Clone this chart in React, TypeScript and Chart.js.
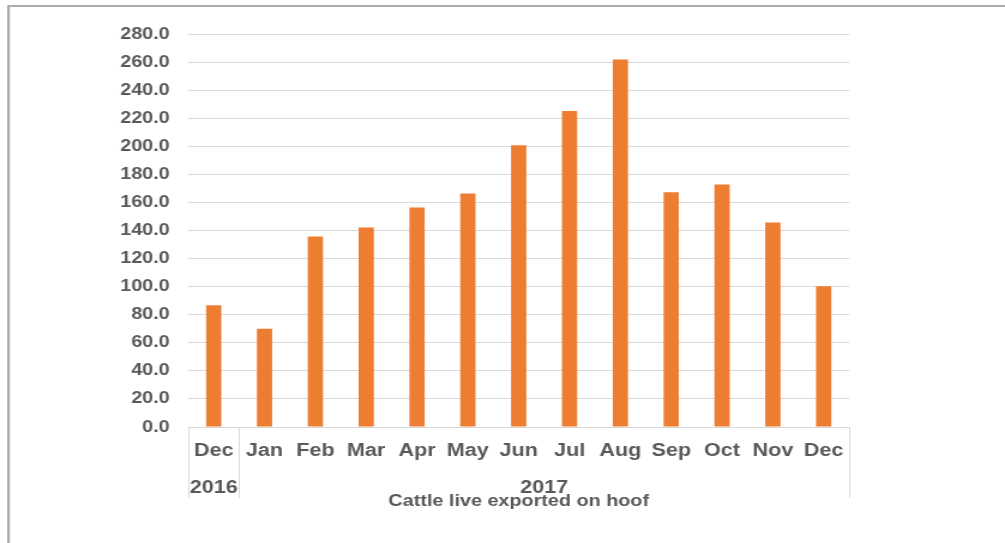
import React, { useEffect, useRef } from "react";
import { Chart, registerables } from "chart.js";

Chart.register(...registerables);

const months: string[] = ["Dec", "Jan", "Feb", "Mar", "Apr", "May", "Jun", "Jul", "Aug", "Sep", "Oct", "Nov", "Dec"];
const years: { label: string; from: number; to: number }[] = [
  { label: "2016", from: 0, to: 0 },
  { label: "2017", from: 1, to: 12 },
];
const cattleExported: number[] = [86.7, 70.0, 135.7, 142.2, 156.4, 166.4, 200.7, 225.2, 261.9, 167.2, 172.8, 145.7, 100.2];
const chartTitle = "Cattle live exported on hoof";
const yMin = 0;
const yMax = 280;
const yStep = 20;

const FONT = "'Liberation Sans', Arial, sans-serif";
const TEXT = "#595959";
const GRID = "#d9d9d9";
const BAR = "#ED7D31";

// The reference is rendered with a horizontal stretch; the chart is drawn
// on a narrower canvas and displayed at the full page width.
const VIEW_W = 1005;
const VIEW_H = 543;
const CANVAS_W = 838;

const framePlugin = {
  id: "framePlugin",
  afterDraw(chart: any) {
    const ctx = chart.ctx;
    const xs = chart.scales.x;
    const area = chart.chartArea;
    ctx.save();
    // outer frame (top + left)
    ctx.strokeStyle = "#ababab";
    ctx.lineWidth = 2.2;
    ctx.beginPath();
    ctx.moveTo(7.1, VIEW_H);
    ctx.lineTo(7.1, 6);
    ctx.lineTo(CANVAS_W, 6);
    ctx.stroke();

    // category table lines
    const tableBottom = 498;
    ctx.strokeStyle = GRID;
    ctx.lineWidth = 1;
    const boundaries: number[] = [area.left, area.right];
    years.forEach((y, i) => {
      if (i > 0) {
        boundaries.push((xs.getPixelForValue(y.from - 1) + xs.getPixelForValue(y.from)) / 2);
      }
    });
    ctx.beginPath();
    boundaries.forEach((b) => {
      const px = Math.round(b) + 0.5;
      ctx.moveTo(px, area.bottom);
      ctx.lineTo(px, tableBottom);
    });
    ctx.stroke();

    // year labels
    ctx.fillStyle = TEXT;
    ctx.font = `bold 18px ${FONT}`;
    ctx.textAlign = "center";
    ctx.textBaseline = "alphabetic";
    years.forEach((y, i) => {
      const left = i === 0 ? area.left : (xs.getPixelForValue(y.from - 1) + xs.getPixelForValue(y.from)) / 2;
      const right = i === years.length - 1 ? area.right : (xs.getPixelForValue(y.to) + xs.getPixelForValue(y.to + 1)) / 2;
      ctx.fillText(y.label, (left + right) / 2, 493);
    });

    // title
    ctx.font = `bold 16.5px ${FONT}`;
    ctx.fillText(chartTitle, (area.left + area.right) / 2, 506);
    ctx.restore();
  },
};

export default function App() {
  const canvasRef = useRef<HTMLCanvasElement | null>(null);

  useEffect(() => {
    if (!canvasRef.current) return;
    const chart = new Chart(canvasRef.current, {
      type: "bar",
      data: {
        labels: months,
        datasets: [
          {
            label: chartTitle,
            data: cattleExported,
            backgroundColor: BAR,
            borderWidth: 0,
            barPercentage: 0.3,
            categoryPercentage: 1,
          },
        ],
      },
      options: {
        responsive: false,
        maintainAspectRatio: false,
        animation: false,
        devicePixelRatio: 1,
        layout: { padding: { top: 34, right: 130, bottom: 0, left: 0 } },
        plugins: {
          legend: { display: false },
          title: { display: false },
          tooltip: { enabled: false },
        },
        scales: {
          x: {
            afterFit: (scale: any) => {
              scale.height = 116;
            },
            grid: { display: false, drawTicks: false },
            border: { display: true, color: GRID, width: 1 },
            ticks: {
              color: TEXT,
              font: { family: FONT, size: 18, weight: "bold" },
              padding: 13,
              maxRotation: 0,
              autoSkip: false,
            },
          },
          y: {
            min: yMin,
            max: yMax,
            afterFit: (scale: any) => {
              scale.width = 157;
            },
            grid: { color: GRID, lineWidth: 1, drawTicks: false },
            border: { display: false },
            ticks: {
              stepSize: yStep,
              color: TEXT,
              font: { family: FONT, size: 16.5, weight: "bold" },
              padding: 15.5,
              callback: (v: any) => Number(v).toFixed(1),
            },
          },
        },
      },
      plugins: [framePlugin],
    });
    return () => chart.destroy();
  }, []);

  return (
    <div style={{ position: "absolute", left: 0, top: 0, width: VIEW_W, height: VIEW_H, background: "#fff", overflow: "hidden" }}>
      <canvas
        ref={canvasRef}
        width={CANVAS_W}
        height={VIEW_H}
        style={{ width: `${VIEW_W}px`, height: `${VIEW_H}px`, display: "block" }}
      />
    </div>
  );
}
